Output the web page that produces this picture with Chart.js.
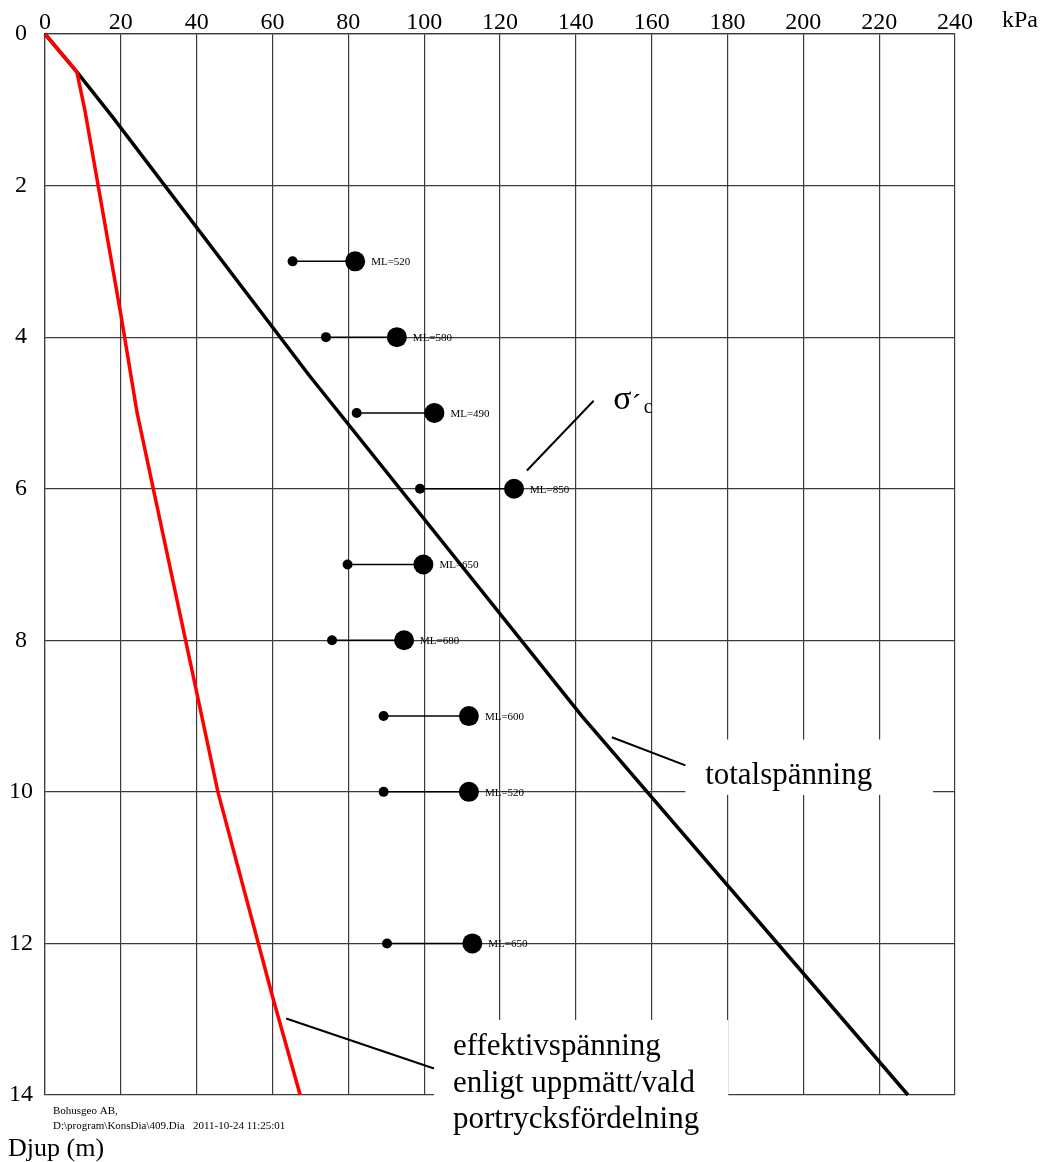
<!DOCTYPE html>
<html>
<head>
<meta charset="utf-8">
<script src="https://cdn.jsdelivr.net/npm/chart.js@4"></script>
<style>
html,body{margin:0;padding:0;background:#fff;}
#wrap{width:1053px;height:1162px;}
</style>
</head>
<body>
<div id="wrap"><canvas id="c" width="1053" height="1162"></canvas></div>
<script>
// ---- data ----
const xTickValues = [0,20,40,60,80,100,120,140,160,180,200,220,240];
const yTickValues = [0,2,4,6,8,10,12,14];

// total stress (totalspänning)
const totalDepth = [0, 0.5, 1.1, 4.5, 9, 14];
const totalKpa   = [0, 8.4, 17.9, 69.6, 141.6, 227.6];

// effective stress (effektivspänning)
const effDepth = [0, 0.5, 1, 3.7, 5, 10, 12.7, 14];
const effKpa   = [0, 8.4, 10.5, 20, 24.3, 45.6, 60, 67.3];

// oedometer results: in-situ effective stress (small) and preconsolidation (big)
const sampleDepth = [3, 4, 5, 6, 7, 8, 9, 10, 12];
const sigmaSmall  = [65.3, 74.1, 82.2, 98.9, 79.8, 75.7, 89.3, 89.3, 90.2];
const sigmaC      = [81.8, 92.8, 102.7, 123.7, 99.8, 94.7, 111.8, 111.8, 112.7];
const mlLabels    = ['ML=520','ML=580','ML=490','ML=850','ML=650','ML=680','ML=600','ML=520','ML=650'];

const FONT = '"Liberation Serif", "Times New Roman", serif';

// ---- datasets ----
const datasets = [];
datasets.push({
  label: 'effektivspänning',
  data: effDepth.map((d, i) => ({x: effKpa[i], y: d})),
  showLine: true, borderColor: '#ff0000', borderWidth: 3.5,
  pointRadius: 0, fill: false, tension: 0, clip: false
});
sampleDepth.forEach((d, i) => {
  datasets.push({
    label: mlLabels[i],
    data: [{x: sigmaSmall[i], y: d}, {x: sigmaC[i], y: d}],
    showLine: true, borderColor: '#000', borderWidth: 1.5,
    pointRadius: [5, 10], pointBackgroundColor: '#000', pointBorderWidth: 0,
    pointHoverRadius: [5, 10], clip: false, isSample: true
  });
});
datasets.push({
  label: 'totalspänning',
  data: totalDepth.map((d, i) => ({x: totalKpa[i], y: d})),
  showLine: true, borderColor: '#000', borderWidth: 3.5,
  pointRadius: 0, fill: false, tension: 0, clip: false
});

// annotations in data coordinates
const notes = {
  sigmaLeader: [[127.1, 5.76], [144.7, 4.84]],
  sigmaPos: [149.9, 4.95],
  totalLeader: [[149.5, 9.28], [168.9, 9.65]],
  totalBox: [168.9, 9.31, 234.2, 10.04],
  totalText: [174.1, 9.9],
  effLeader: [[63.6, 12.99], [102.6, 13.65]],
  effBox: [102.6, 13.01, 180.2, 15.0],
  effText: [107.6, [13.47, 13.96, 14.44]],
};
const effLines = ['effektivspänning', 'enligt uppmätt/vald', 'portrycksfördelning'];

const overlay = {
  id: 'overlay',
  afterDatasetsDraw(chart) {
    const ctx = chart.ctx;
    const xs = chart.scales.x, ys = chart.scales.y;
    const px = v => xs.getPixelForValue(v), py = v => ys.getPixelForValue(v);
    ctx.save();
    // ML labels
    ctx.fillStyle = '#000';
    ctx.font = '11px ' + FONT;
    ctx.textBaseline = 'middle';
    ctx.textAlign = 'left';
    chart.data.datasets.forEach((ds, i) => {
      if (!ds.isSample) return;
      const pt = chart.getDatasetMeta(i).data[1];
      ctx.fillText(ds.label, pt.x + 16, pt.y + 1);
    });
    // white boxes
    ctx.fillStyle = '#fff';
    let b = notes.totalBox;
    ctx.fillRect(px(b[0]), py(b[1]), px(b[2]) - px(b[0]), py(b[3]) - py(b[1]));
    b = notes.effBox;
    ctx.fillRect(px(b[0]), py(b[1]), px(b[2]) - px(b[0]), py(b[3]) - py(b[1]));
    // leader lines
    ctx.strokeStyle = '#000';
    ctx.lineWidth = 2;
    [notes.sigmaLeader, notes.totalLeader, notes.effLeader].forEach(l => {
      ctx.beginPath();
      ctx.moveTo(px(l[0][0]), py(l[0][1]));
      ctx.lineTo(px(l[1][0]), py(l[1][1]));
      ctx.stroke();
    });
    // texts
    ctx.fillStyle = '#000';
    ctx.textBaseline = 'alphabetic';
    ctx.font = '31px ' + FONT;
    ctx.fillText('totalspänning', px(notes.totalText[0]), py(notes.totalText[1]));
    effLines.forEach((t, k) => ctx.fillText(t, px(notes.effText[0]), py(notes.effText[1][k])));
    // sigma'c
    const sx = px(notes.sigmaPos[0]), sy = py(notes.sigmaPos[1]);
    ctx.font = '34px ' + FONT;
    ctx.fillText('σ', sx, sy);
    const w = ctx.measureText('σ').width;
    ctx.font = '28px ' + FONT;
    ctx.fillText('´', sx + w, sy + 4);
    ctx.font = '20px ' + FONT;
    ctx.fillText('c', sx + w + 12, sy + 4);
    ctx.restore();
  },
  afterDraw(chart) {
    const ctx = chart.ctx;
    const ca = chart.chartArea;
    ctx.save();
    ctx.fillStyle = '#000';
    ctx.textBaseline = 'middle';
    ctx.textAlign = 'left';
    ctx.font = '24px ' + FONT;
    ctx.fillText('kPa', ca.right + 47, 21);
    ctx.font = '26px ' + FONT;
    ctx.textBaseline = 'alphabetic';
    ctx.fillText('Djup (m)', 8, ca.bottom + 61);
    ctx.font = '11px ' + FONT;
    ctx.fillText('Bohusgeo AB,', ca.left + 8, ca.bottom + 19);
    ctx.fillText('D:\\program\\KonsDia\\409.Dia', ca.left + 8, ca.bottom + 34);
    ctx.fillText('2011-10-24 11:25:01', ca.left + 148, ca.bottom + 34);
    ctx.restore();
  }
};

new Chart(document.getElementById('c'), {
  type: 'scatter',
  data: {datasets},
  options: {
    responsive: false,
    animation: false,
    events: [],
    layout: {padding: {left: 0, top: 0, right: 98, bottom: 67}},
    plugins: {legend: {display: false}, tooltip: {enabled: false}},
    scales: {
      x: {
        type: 'linear', position: 'top', min: 0, max: 240,
        afterBuildTicks: s => { s.ticks = xTickValues.map(v => ({value: v})); },
        afterFit: s => { s.height = 34; },
        grid: {color: '#3c3c3c', lineWidth: 1.2, drawTicks: false},
        border: {color: '#3c3c3c', width: 1.2},
        ticks: {padding: -3, color: '#000', font: {family: FONT, size: 24}, maxRotation: 0, autoSkip: false}
      },
      y: {
        type: 'linear', position: 'left', min: 0, max: 14, reverse: true,
        afterBuildTicks: s => { s.ticks = yTickValues.map(v => ({value: v})); },
        afterFit: s => { s.width = 45; },
        grid: {color: '#3c3c3c', lineWidth: 1.2, drawTicks: false},
        border: {color: '#3c3c3c', width: 1.2},
        ticks: {padding: 12, crossAlign: 'center', color: '#000', font: {family: FONT, size: 24}, autoSkip: false}
      }
    }
  },
  plugins: [overlay]
});
</script>
</body>
</html>
